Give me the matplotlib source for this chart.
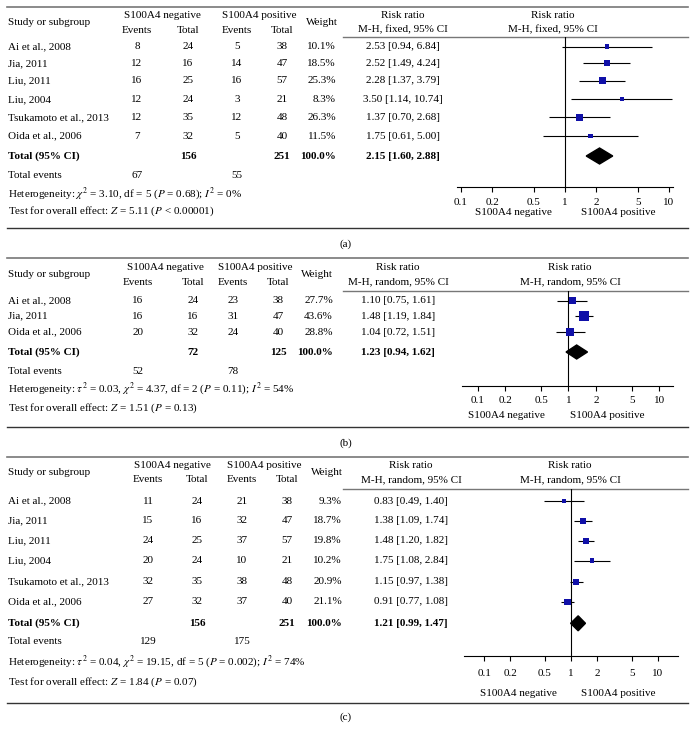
"""
Forest plots of S100A4 expression, three panels (a), (b), (c).
"""
import matplotlib.pyplot as plt
import numpy as np

plt.rcParams['font.family'] = ['Liberation Serif', 'DejaVu Serif']
plt.rcParams['mathtext.fontset'] = 'stix'
FS = 8

# ---- data ----
studies_6 = ["Ai et al., 2008", "Jia, 2011", "Liu, 2011", "Liu, 2004",
             "Tsukamoto et al., 2013", "Oida et al., 2006"]
studies_3 = ["Ai et al., 2008", "Jia, 2011", "Oida et al., 2006"]

# panel (a)
a_neg_events = [8, 12, 16, 12, 12, 7]
a_neg_total = [24, 16, 25, 24, 35, 32]
a_pos_events = [5, 14, 16, 3, 12, 5]
a_pos_total = [38, 47, 57, 21, 48, 40]
a_weight = [10.1, 18.5, 25.3, 8.3, 26.3, 11.5]
a_rr = [2.53, 2.52, 2.28, 3.50, 1.37, 1.75]
a_lo = [0.94, 1.49, 1.37, 1.14, 0.70, 0.61]
a_hi = [6.84, 4.24, 3.79, 10.74, 2.68, 5.00]
a_total = [156, 251]
a_total_events = [67, 55]
a_pooled = [2.15, 1.60, 2.88]
a_het = r"Heterogeneity: $\chi^2$ = 3.10, df = 5 ($P$ = 0.68); $I^2$ = 0%"
a_test = r"Test for overall effect: $Z$ = 5.11 ($P$ < 0.00001)"

# panel (b)
b_neg_events = [16, 16, 20]
b_neg_total = [24, 16, 32]
b_pos_events = [23, 31, 24]
b_pos_total = [38, 47, 40]
b_weight = [27.7, 43.6, 28.8]
b_rr = [1.10, 1.48, 1.04]
b_lo = [0.75, 1.19, 0.72]
b_hi = [1.61, 1.84, 1.51]
b_total = [72, 125]
b_total_events = [52, 78]
b_pooled = [1.23, 0.94, 1.62]
b_het = (r"Heterogeneity: $\tau^2$ = 0.03, $\chi^2$ = 4.37, df = 2 "
         r"($P$ = 0.11); $I^2$ = 54%")
b_test = r"Test for overall effect: $Z$ = 1.51 ($P$ = 0.13)"

# panel (c)
c_neg_events = [11, 15, 24, 20, 32, 27]
c_neg_total = [24, 16, 25, 24, 35, 32]
c_pos_events = [21, 32, 37, 10, 38, 37]
c_pos_total = [38, 47, 57, 21, 48, 40]
c_weight = [9.3, 18.7, 19.8, 10.2, 20.9, 21.1]
c_rr = [0.83, 1.38, 1.48, 1.75, 1.15, 0.91]
c_lo = [0.49, 1.09, 1.20, 1.08, 0.97, 0.77]
c_hi = [1.40, 1.74, 1.82, 2.84, 1.38, 1.08]
c_total = [156, 251]
c_total_events = [129, 175]
c_pooled = [1.21, 0.99, 1.47]
c_het = (r"Heterogeneity: $\tau^2$ = 0.04, $\chi^2$ = 19.15, df = 5 "
         r"($P$ = 0.002); $I^2$ = 74%")
c_test = r"Test for overall effect: $Z$ = 1.84 ($P$ = 0.07)"

ticks = [0.1, 0.2, 0.5, 1, 2, 5, 10]
tick_labels = ["0.1", "0.2", "0.5", "1", "2", "5", "10"]

W, H = 695, 729
fig = plt.figure(figsize=(W / 100, H / 100), dpi=100)
bg = fig.add_axes([0, 0, 1, 1])
bg.set_xlim(0, W)
bg.set_ylim(H, 0)
bg.axis('off')


def txt(x, y, s, ha='center', bold=False):
    bg.text(x, y, s, ha=ha, va='center', fontsize=FS,
            fontweight='bold' if bold else 'normal')


def draw_panel(L, names, ne, nt, pe, pt, w, rr, lo, hi, tot, tev, pooled,
               het, test, method):
    c1, c2, c3, c4 = L['cols']
    # rules
    bg.plot([7, 688], [L['top'], L['top']], color='#777777', lw=1.2)
    bg.plot([343, 688], [L['head'], L['head']], color='#777777', lw=1.0)
    bg.plot([7, 688], [L['bottom'], L['bottom']], color='#333333', lw=1.0)
    bg.text(346, L['label_y'], L['label'], ha='center', va='center',
            fontsize=FS)

    # header
    h1, h2 = L['hdr1'], L['hdr2']
    txt(8, (h1 + h2) / 2, "Study or subgroup", ha='left')
    txt((c1 + c2) / 2, h1, "S100A4 negative")
    txt((c3 + c4) / 2, h1, "S100A4 positive")
    for x, s in zip(L['cols'], ["Events", "Total", "Events", "Total"]):
        txt(x, h2, s)
    txt(L['weight_hdr'], (h1 + h2) / 2, "Weight")
    for x in (L['rr_x'], L['fp_x']):
        txt(x, h1, "Risk ratio")
        txt(x, h2, "M-H, %s, 95%% CI" % method)

    # study rows
    for i, y in enumerate(L['rows']):
        txt(8, y, names[i], ha='left')
        txt(c1, y, str(ne[i]))
        txt(c2, y, str(nt[i]))
        txt(c3, y, str(pe[i]))
        txt(c4, y, str(pt[i]))
        txt(L['weight_x'], y, "%.1f%%" % w[i], ha='right')
        txt(L['rr_x'], y, "%.2f [%.2f, %.2f]" % (rr[i], lo[i], hi[i]))

    # totals
    ty = L['total_y']
    txt(8, ty, "Total (95% CI)", ha='left', bold=True)
    txt(c2, ty, str(tot[0]), bold=True)
    txt(c4, ty, str(tot[1]), bold=True)
    txt(L['weight_x'], ty, "100.0%", ha='right', bold=True)
    txt(L['rr_x'], ty, "%.2f [%.2f, %.2f]" % tuple(pooled), bold=True)
    txt(8, L['events_y'], "Total events", ha='left')
    txt(c1, L['events_y'], str(tev[0]))
    txt(c3, L['events_y'], str(tev[1]))
    txt(8, L['het_y'], het, ha='left')
    txt(8, L['test_y'], test, ha='left')

    # forest plot
    x0, x1 = L['ax_x']
    y0, y1 = L['head'], L['axis_y']
    ax = fig.add_axes([x0 / W, 1 - y1 / H, (x1 - x0) / W, (y1 - y0) / H])
    ax.patch.set_visible(False)
    ax.set_xscale('log')
    ax.set_xlim(L['xlim'])
    ax.set_ylim(y1, y0)
    for s in ('top', 'left', 'right'):
        ax.spines[s].set_visible(False)
    ax.spines['bottom'].set_linewidth(0.8)
    ax.set_yticks([])
    ax.set_xticks(ticks)
    ax.set_xticklabels(tick_labels)
    ax.minorticks_off()
    ax.tick_params(axis='x', direction='out', length=3.6, width=0.8,
                   pad=L['pad'], labelsize=FS)
    ax.axvline(1, color='black', lw=0.8)
    rows = np.array(L['rows'])
    ax.hlines(rows, lo, hi, color='black', lw=0.8)
    ax.scatter(rr, rows, s=1.0 * np.array(w), marker='s',
               color='#1010a8', zorder=3, linewidths=0)
    est, plo, phi = pooled
    d = L['dia_h']
    ax.fill([plo, est, phi, est], [ty, ty - d, ty, ty + d], color='black',
            zorder=3)
    txt(L['neg_x'], L['lab_y'], "S100A4 negative")
    txt(L['pos_x'], L['lab_y'], "S100A4 positive")


layout_a = dict(label="(a)", top=7, head=37, bottom=228.3, label_y=244,
                hdr1=15, hdr2=30,
                rows=[46.7, 63.3, 80.7, 99.3, 117.3, 136],
                total_y=156, events_y=175, het_y=193.3, test_y=211.7,
                cols=[137, 188, 237, 282], weight_x=336, weight_hdr=322,
                rr_x=403, fp_x=553, ax_x=(456.7, 673.3), axis_y=187.3,
                xlim=(0.091, 11.0), pad=4, lab_y=212, neg_x=513, pos_x=618,
                dia_h=8)
layout_b = dict(label="(b)", top=258, head=290.7, bottom=426.7,
                label_y=442.7, hdr1=267, hdr2=282,
                rows=[300.7, 316, 332],
                total_y=352, events_y=371, het_y=389, test_y=408,
                cols=[138, 193, 233, 278], weight_x=333, weight_hdr=317,
                rr_x=398, fp_x=570, ax_x=(461.7, 673.3), axis_y=385.7,
                xlim=(0.0667, 14.26), pad=4, lab_y=415.7, neg_x=506,
                pos_x=607, dia_h=7)
layout_c = dict(label="(c)", top=456.7, head=489.3, bottom=702.7,
                label_y=716.7, hdr1=465.7, hdr2=479.5,
                rows=[501, 520.7, 540.7, 560.7, 581.7, 601.7],
                total_y=623.3, events_y=641.7, het_y=661.7, test_y=682.3,
                cols=[148, 197, 242, 287], weight_x=342, weight_hdr=327,
                rr_x=411, fp_x=570, ax_x=(464.3, 678.3), axis_y=656,
                xlim=(0.0588, 17.3), pad=5.5, lab_y=693.3, neg_x=518,
                pos_x=618, dia_h=7.5)

draw_panel(layout_a, studies_6, a_neg_events, a_neg_total, a_pos_events,
           a_pos_total, a_weight, a_rr, a_lo, a_hi, a_total, a_total_events,
           a_pooled, a_het, a_test, "fixed")
draw_panel(layout_b, studies_3, b_neg_events, b_neg_total, b_pos_events,
           b_pos_total, b_weight, b_rr, b_lo, b_hi, b_total, b_total_events,
           b_pooled, b_het, b_test, "random")
draw_panel(layout_c, studies_6, c_neg_events, c_neg_total, c_pos_events,
           c_pos_total, c_weight, c_rr, c_lo, c_hi, c_total, c_total_events,
           c_pooled, c_het, c_test, "random")

fig.savefig("out.png", dpi=100, facecolor='white')
